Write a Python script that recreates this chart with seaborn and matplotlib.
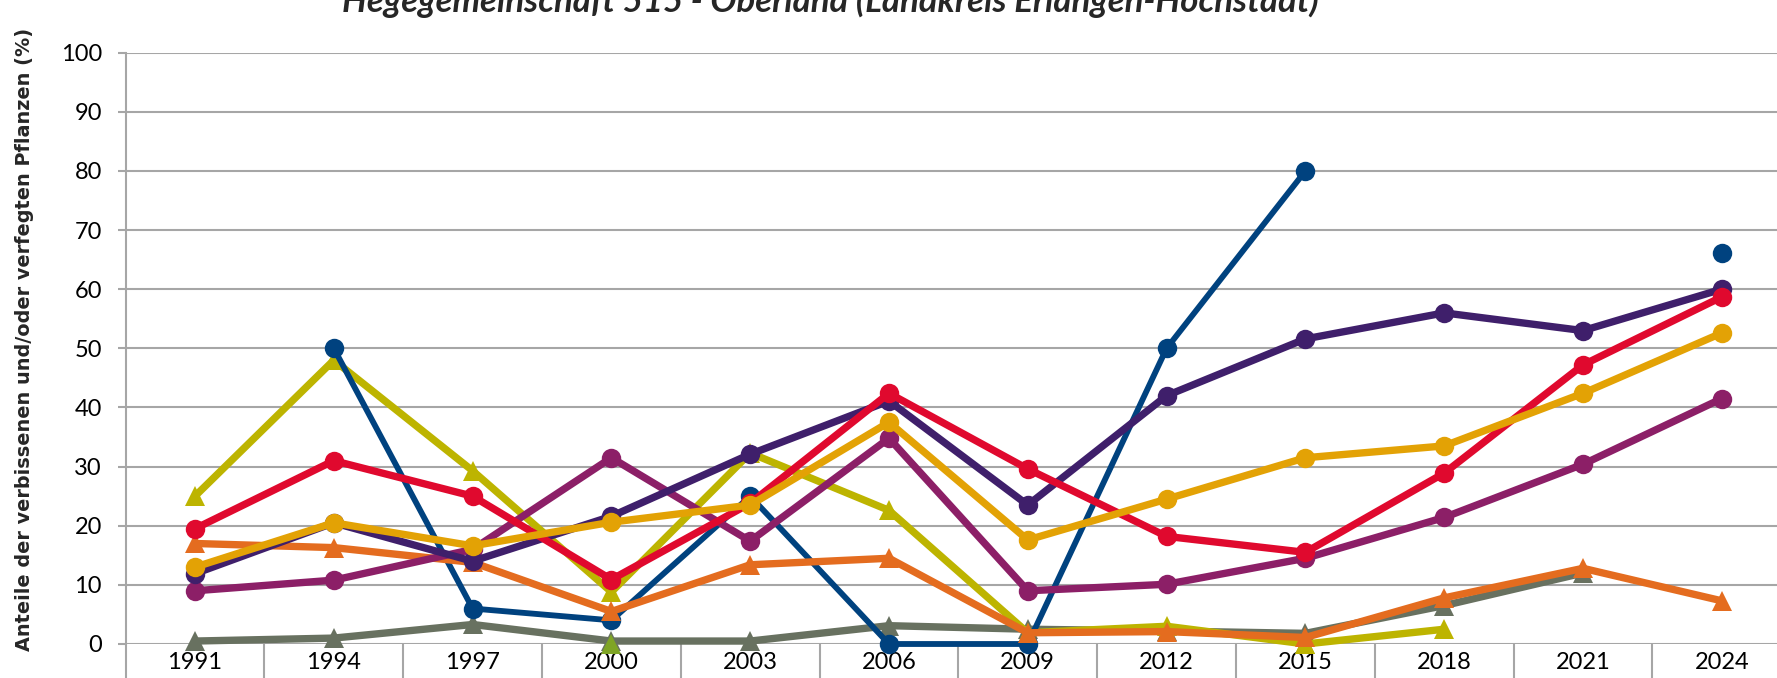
import numpy as np
import pandas as pd
import matplotlib
matplotlib.use("Agg")
import matplotlib.pyplot as plt
import seaborn as sns

# ---------------- data ----------------
years = ["1991", "1994", "1997", "2000", "2003", "2006", "2009", "2012", "2015", "2018", "2021", "2024"]
N = None
gray_vals    = [0.5, 1.0, 3.3, 0.5, 0.5, 3.1, 2.5, 2.2, 1.8, 6.5, 12.0, N]
green_vals   = [N, N, N, 0.0, N, N, N, N, 0.0, N, N, N]
olive_vals   = [25.0, 48.0, 29.3, 8.8, 32.3, 22.6, 1.9, 3.0, 0.0, 2.5, N, N]
blue_vals    = [N, 50.0, 6.0, 4.0, 25.0, 0.0, 0.0, 50.0, 80.0, N, N, 66.2]
orange_vals  = [17.0, 16.3, 13.8, 5.5, 13.4, 14.5, 1.9, 2.1, 1.1, 7.8, 12.8, 7.3]
magenta_vals = [9.0, 10.8, 16.0, 31.5, 17.4, 34.8, 9.0, 10.1, 14.5, 21.4, 30.4, 41.5]
purple_vals  = [11.9, 20.5, 14.0, 21.6, 32.1, 41.1, 23.5, 42.0, 51.6, 56.0, 53.0, 60.0]
red_vals     = [19.5, 31.0, 25.0, 10.9, 23.8, 42.4, 29.6, 18.2, 15.5, 28.9, 47.2, 58.7]
gold_vals    = [13.0, 20.5, 16.6, 20.6, 23.5, 37.5, 17.6, 24.5, 31.5, 33.5, 42.4, 52.6]

title = "Hegegemeinschaft 515 - Oberland (Landkreis Erlangen-Höchstadt)"
ylabel = "Anteile der verbissenen und/oder verfegten Pflanzen (%)"

# name, values, color, marker, linewidth, markersize (drawing order)
series = [
    ("gray",    gray_vals,    "#687160", "^", 5.3, 14),
    ("green",   green_vals,   "#7FA525", "^", 5.3, 14),
    ("olive",   olive_vals,   "#BDB400", "^", 5.3, 14),
    ("blue",    blue_vals,    "#00427F", "o", 4.2, 14),
    ("orange",  orange_vals,  "#E46C1F", "^", 5.3, 14),
    ("magenta", magenta_vals, "#8C1F67", "o", 5.3, 14),
    ("purple",  purple_vals,  "#3F1F6B", "o", 5.3, 14),
    ("red",     red_vals,     "#E0092E", "o", 5.3, 14),
    ("gold",    gold_vals,    "#E3A205", "o", 5.3, 14),
]

rows = []
for name, vals, *_ in series:
    seg = 0
    prev = False
    for i, v in enumerate(vals):
        if v is None:
            if prev:
                seg += 1
            prev = False
            continue
        rows.append({"series": name, "x": i, "value": v, "seg": seg})
        prev = True
df = pd.DataFrame(rows)

# ---------------- figure ----------------
sns.set_theme(style="white")
plt.rcParams["font.family"] = ["Lato", "DejaVu Sans"]

fig = plt.figure(figsize=(17.77, 6.78), dpi=100)
ax = fig.add_axes([125.6 / 1777, 34 / 678, 12 * 138.8 / 1777, 591.3 / 678])

for name, vals, color, marker, lw, ms in series:
    sub = df[df["series"] == name]
    sns.lineplot(data=sub, x="x", y="value", units="seg", estimator=None,
                 color=color, marker=marker, linewidth=lw, markersize=ms,
                 markeredgewidth=0, ax=ax, clip_on=False, legend=False,
                 sort=False)

ax.set_xlim(-0.5, len(years) - 0.5)
ax.set_ylim(0, 100)
ax.set_yticks(np.arange(0, 101, 10))
ax.set_xticks(range(len(years)))
ax.set_xticklabels(years)
ax.set_xticks(np.arange(-0.5, len(years), 1.0), minor=True)

ax.grid(False)
ax.yaxis.grid(True, color="#A6A6A6", linewidth=1.5)
ax.set_axisbelow(True)

for s in ["top", "right", "bottom"]:
    ax.spines[s].set_visible(False)
ax.spines["left"].set_color("#A6A6A6")
ax.spines["left"].set_linewidth(1.5)

ax.tick_params(axis="y", which="major", length=6, width=1.5, color="#A6A6A6",
               pad=11, labelsize=17, labelcolor="black", left=True)
ax.tick_params(axis="x", which="major", length=0, pad=6, labelsize=17,
               labelcolor="black")
ax.tick_params(axis="x", which="minor", length=40, width=1.5, color="#A6A6A6",
               bottom=True)

ax.set_xlabel("")
ax.set_ylabel("")

fig.text(25 / 1777, 0.499, ylabel, rotation=90, ha="center",
         va="center", fontsize=13.9, fontweight="bold", family="DejaVu Sans")
fig.text(830 / 1777, 1 - 12 / 678, title, ha="center", va="baseline",
         fontsize=25, fontweight="bold", fontstyle="italic")

fig.savefig("out.png", dpi=100)
